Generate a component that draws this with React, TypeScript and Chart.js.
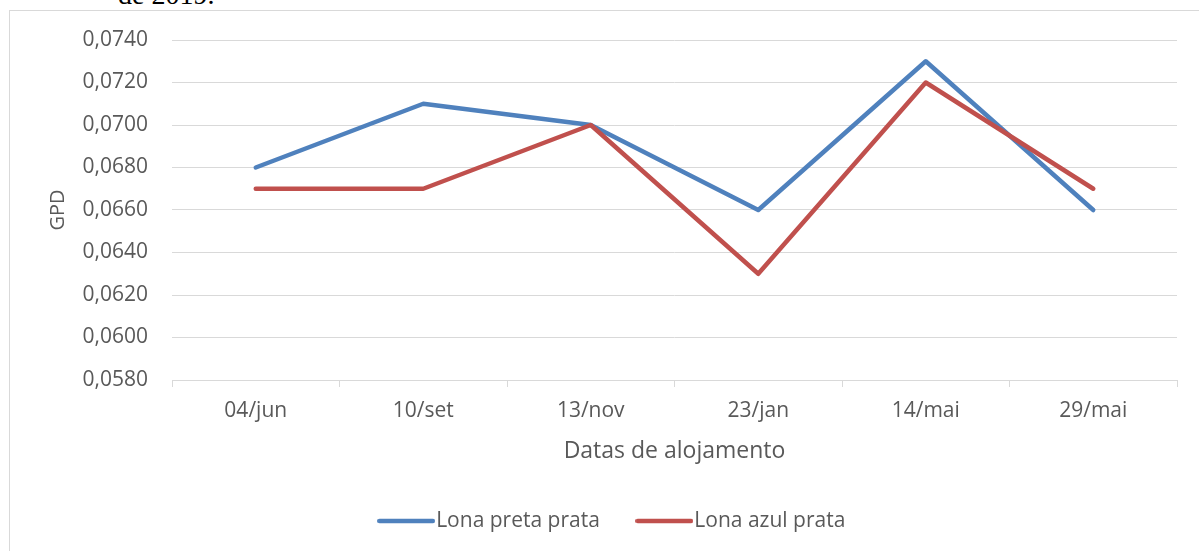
import React, { useEffect, useRef } from "react";
import { Chart, registerables } from "chart.js";

Chart.register(...registerables);

const categories = ["04/jun", "10/set", "13/nov", "23/jan", "14/mai", "29/mai"];
const lonaPretaPrata = [0.068, 0.071, 0.07, 0.066, 0.073, 0.066];
const lonaAzulPrata = [0.067, 0.067, 0.07, 0.063, 0.072, 0.067];
const seriesNames = ["Lona preta prata", "Lona azul prata"];
const seriesColors = ["#4f81bd", "#c0504d"];
const yMin = 0.058;
const yMax = 0.074;
const yStep = 0.002;
const xTitle = "Datas de alojamento";
const yTitle = "GPD";

const FONT = "'Open Sans', sans-serif";
const TEXT = "#595959";
const GRID = "#d9d9d9";

function legendLine(color: string): HTMLCanvasElement {
  const c = document.createElement("canvas");
  c.width = 58;
  c.height = 6;
  const ctx = c.getContext("2d")!;
  ctx.strokeStyle = color;
  ctx.lineWidth = 4.5;
  ctx.lineCap = "round";
  ctx.beginPath();
  ctx.moveTo(2.25, 3);
  ctx.lineTo(55.75, 3);
  ctx.stroke();
  return c;
}

export default function App() {
  const ref = useRef<HTMLCanvasElement | null>(null);

  useEffect(() => {
    if (!ref.current) return;
    const legendPad = 45;
    const pb = 9.5;
    const legendH = 21 + legendPad + 10;
    const xH = 551 - pb - legendH - 380;
    const shiftLegend = {
      id: "shiftLegend",
      afterLayout(chart: any) {
        if (chart.legend) chart.legend.left += 55;
      },
    };
    const chart = new Chart(ref.current, {
      type: "line",
      data: {
        labels: categories,
        datasets: [
          {
            label: seriesNames[0],
            data: lonaPretaPrata,
            borderColor: seriesColors[0],
            backgroundColor: seriesColors[0],
            borderWidth: 4.5,
            pointRadius: 0,
            pointStyle: legendLine(seriesColors[0]),
            borderCapStyle: "round",
            borderJoinStyle: "round",
            order: 1,
          },
          {
            label: seriesNames[1],
            data: lonaAzulPrata,
            borderColor: seriesColors[1],
            backgroundColor: seriesColors[1],
            borderWidth: 4.5,
            pointRadius: 0,
            pointStyle: legendLine(seriesColors[1]),
            borderCapStyle: "round",
            borderJoinStyle: "round",
            order: 0,
          },
        ],
      },
      options: {
        responsive: false,
        animation: false,
        layout: { padding: { left: 0, right: 22, top: 40, bottom: pb } },
        plugins: {
          tooltip: { enabled: false },
          legend: {
            position: "bottom",
            labels: {
              usePointStyle: true,
              pointStyleWidth: 39,
              padding: legendPad,
              color: TEXT,
              font: { family: FONT, size: 21 },
              sort: (a: any, b: any) => a.datasetIndex - b.datasetIndex,
            },
          },
        },
        scales: {
          x: {
            offset: true,
            grid: {
              offset: true,
              drawOnChartArea: false,
              drawTicks: true,
              tickLength: 7,
              color: GRID,
            },
            border: { display: true, color: GRID, width: 1 },
            ticks: {
              color: TEXT,
              font: { family: FONT, size: 21 },
              padding: 11,
              maxRotation: 0,
            },
            title: {
              display: true,
              text: xTitle,
              color: TEXT,
              font: { family: FONT, size: 23 },
              padding: { top: 0, bottom: 0 },
            },
            afterFit: (s: any) => {
              s.height = xH;
            },
          },
          y: {
            min: yMin,
            max: yMax,
            grid: { color: GRID, drawTicks: false },
            border: { display: false },
            ticks: {
              stepSize: yStep,
              color: TEXT,
              font: { family: FONT, size: 21 },
              padding: 24,
              callback: (v: any) => Number(v).toFixed(4).replace(".", ","),
            },
            title: {
              display: true,
              text: yTitle,
              color: TEXT,
              font: { family: FONT, size: 20 },
              padding: { top: 46, bottom: 0 },
            },
            afterFit: (s: any) => {
              s.width = 172;
            },
          },
        },
      },
      plugins: [shiftLegend],
    });
    return () => chart.destroy();
  }, []);

  return (
    <div
      style={{
        position: "fixed",
        left: 0,
        top: 0,
        width: 1199,
        height: 551,
        overflow: "hidden",
        background: "#fff",
      }}
    >
      <div
        style={{
          position: "absolute",
          left: 118,
          top: -19,
          fontFamily: "'Liberation Serif', serif",
          fontSize: 28,
          lineHeight: "28px",
          color: "#000",
          whiteSpace: "nowrap",
        }}
      >
        de 2019.
      </div>
      <div
        style={{
          position: "absolute",
          left: 9,
          top: 10,
          width: 1250,
          height: 600,
          border: `1px solid ${GRID}`,
          boxSizing: "border-box",
        }}
      />
      <canvas
        ref={ref}
        width={1199}
        height={551}
        style={{ position: "absolute", left: 0, top: 0, width: 1199, height: 551 }}
      />
    </div>
  );
}
